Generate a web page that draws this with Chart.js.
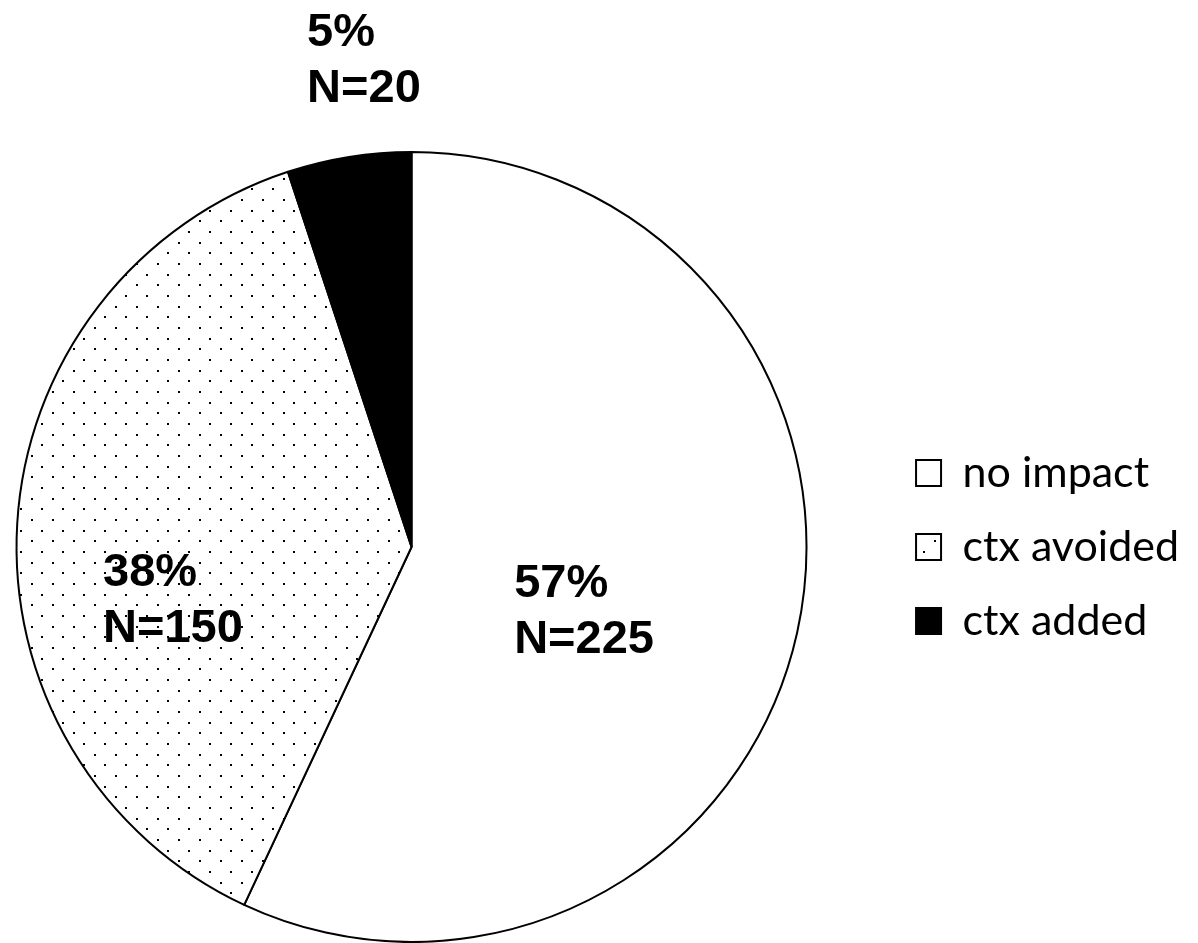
<!DOCTYPE html>
<html>
<head>
<meta charset="utf-8">
<script src="https://cdn.jsdelivr.net/npm/chart.js@4"></script>
<style>
  html, body { margin: 0; padding: 0; background: #fff; overflow: hidden; }
  /* canvas is a bit wider than the window and shifted left so the pie sits where it should */
  #wrap { width: 1260px; height: 943px; position: absolute; left: -62px; top: 0; }
</style>
</head>
<body>
<div id="wrap"><canvas id="pieChart"></canvas></div>
<script>
const categories = ['no impact', 'ctx avoided', 'ctx added'];
const counts = [225, 150, 20];
const percentLabels = ['57%', '38%', '5%'];

// where each slice's label sits: fraction of radius along the mid-angle, plus a nudge
const labelDist = [0.45, 0.6, 1.24];
const labelNudge = [[-1, 24], [-2, 66], [30, -4]];

function dotPattern() {
  const c = document.createElement('canvas');
  c.width = 21;
  c.height = 64;
  const g = c.getContext('2d');
  g.fillStyle = '#fff';
  g.fillRect(0, 0, c.width, c.height);
  g.fillStyle = '#000';
  [7, 28, 50].forEach(y => g.fillRect(9, y, 2, 2));
  [18, 39, 60].forEach(y => g.fillRect(19, y, 2, 2));
  return g.createPattern(c, 'repeat');
}

const sliceLabels = {
  id: 'sliceLabels',
  afterDatasetsDraw(chart) {
    const ctx = chart.ctx;
    const arcs = chart.getDatasetMeta(0).data;
    ctx.save();
    ctx.font = "bold 47px 'Liberation Sans', Arial, sans-serif";
    ctx.fillStyle = '#000';
    ctx.textAlign = 'left';
    ctx.textBaseline = 'alphabetic';
    arcs.forEach((arc, i) => {
      const p = arc.getProps(['x', 'y', 'startAngle', 'endAngle', 'outerRadius'], true);
      const mid = (p.startAngle + p.endAngle) / 2;
      const cx = p.x + Math.cos(mid) * p.outerRadius * labelDist[i] + labelNudge[i][0];
      const cy = p.y + Math.sin(mid) * p.outerRadius * labelDist[i] + labelNudge[i][1];
      const lines = [percentLabels[i], 'N=' + counts[i]];
      const w = Math.max(...lines.map(t => ctx.measureText(t).width));
      const left = cx - w / 2;
      ctx.fillText(lines[0], left, cy - 13);
      ctx.fillText(lines[1], left, cy + 43);
    });
    ctx.restore();
  }
};

new Chart(document.getElementById('pieChart'), {
  type: 'pie',
  data: {
    labels: categories,
    datasets: [{
      data: counts,
      backgroundColor: ['#ffffff', dotPattern(), '#000000'],
      borderColor: '#000000',
      borderWidth: 2
    }]
  },
  options: {
    responsive: true,
    maintainAspectRatio: false,
    animation: false,
    devicePixelRatio: 1,
    layout: {
      padding: { top: 151, bottom: 0, left: 0, right: 9 }
    },
    plugins: {
      legend: {
        position: 'right',
        labels: {
          color: '#000',
          boxWidth: 25,
          boxHeight: 26,
          padding: 31,
          font: { family: "Lato, 'Open Sans', sans-serif", size: 43 }
        }
      },
      tooltip: { enabled: false }
    }
  },
  plugins: [sliceLabels]
});
</script>
</body>
</html>
